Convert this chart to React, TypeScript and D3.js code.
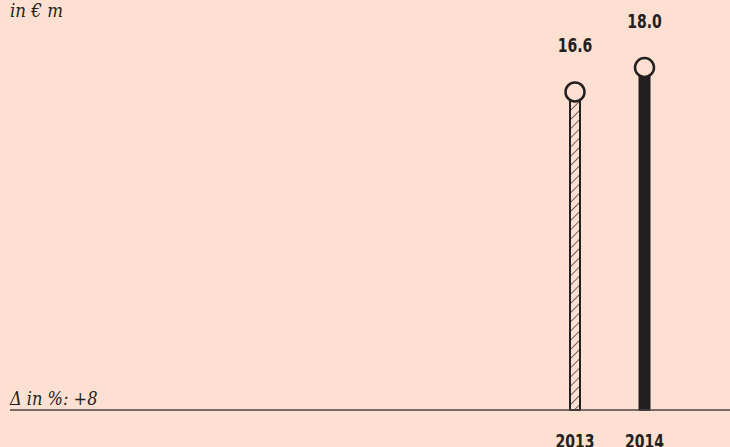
import React from "react";
import * as d3 from "d3";

const years = ["2013", "2014"];
const values = [16.6, 18.0];
const styles = ["hatched", "solid"];
const unitLabel = "in € m";
const deltaLabel = "Δ in %: +8";

const W = 730;
const H = 447;
const BG = "#fde0d1";
const INK = "#231f20";

export default function App() {
  const x = d3.scalePoint<string>().domain(years).range([575, 644.5]);
  const y = d3.scaleLinear().domain([-1.6, 18]).range([410, 67.5]);
  const baseY = 410;
  const barW = 10;
  const r = 9.5;
  const boldFont = "'DejaVu Sans Condensed', 'DejaVu Sans', sans-serif";
  const italicFont = "'DejaVu Serif Condensed', 'DejaVu Serif', serif";
  return (
    <svg width={W} height={H} style={{ position: "absolute", left: 0, top: 0, background: BG }}>
      <defs>
        <pattern id="hatch" width="6.5" height="6.5" patternUnits="userSpaceOnUse" patternTransform="rotate(45)">
          <rect width="6.5" height="6.5" fill={BG} />
          <line x1="0" y1="0" x2="0" y2="6.5" stroke={INK} strokeWidth="1.3" />
        </pattern>
      </defs>
      <rect x={0} y={0} width={W} height={H} fill={BG} />
      <text x={10} y={16.5} fontFamily={italicFont} fontStretch="condensed" fontStyle="italic" fontSize={18.5} fill={INK}>
        {unitLabel}
      </text>
      <text x={10} y={404.5} fontFamily={italicFont} fontStretch="condensed" fontStyle="italic" fontSize={18} fill={INK}>
        {deltaLabel}
      </text>
      {years.map((yr, i) => {
        const cx = x(yr) as number;
        const cy = y(values[i]);
        const hatched = styles[i] === "hatched";
        return (
          <g key={yr}>
            <rect
              x={cx - barW / 2}
              y={cy}
              width={barW}
              height={baseY - cy}
              fill={hatched ? "url(#hatch)" : INK}
              stroke={INK}
              strokeWidth={2}
            />
            <circle cx={cx} cy={cy} r={r} fill={BG} stroke={INK} strokeWidth={2.5} />
            <g transform={`translate(${cx},${cy - 40}) scale(0.78,1)`}>
              <text x={0} y={0} textAnchor="middle" fontFamily={boldFont} fontWeight="bold" fontSize={20} fill={INK}>
                {d3.format(".1f")(values[i])}
              </text>
            </g>
            <g transform={`translate(${cx},447.5) scale(0.78,1)`}>
              <text x={0} y={0} textAnchor="middle" fontFamily={boldFont} fontWeight="bold" fontSize={20} fill={INK}>
                {yr}
              </text>
            </g>
          </g>
        );
      })}
      <line x1={10} x2={W} y1={baseY} y2={baseY} stroke="#4a4444" strokeWidth={1.6} />
    </svg>
  );
}
